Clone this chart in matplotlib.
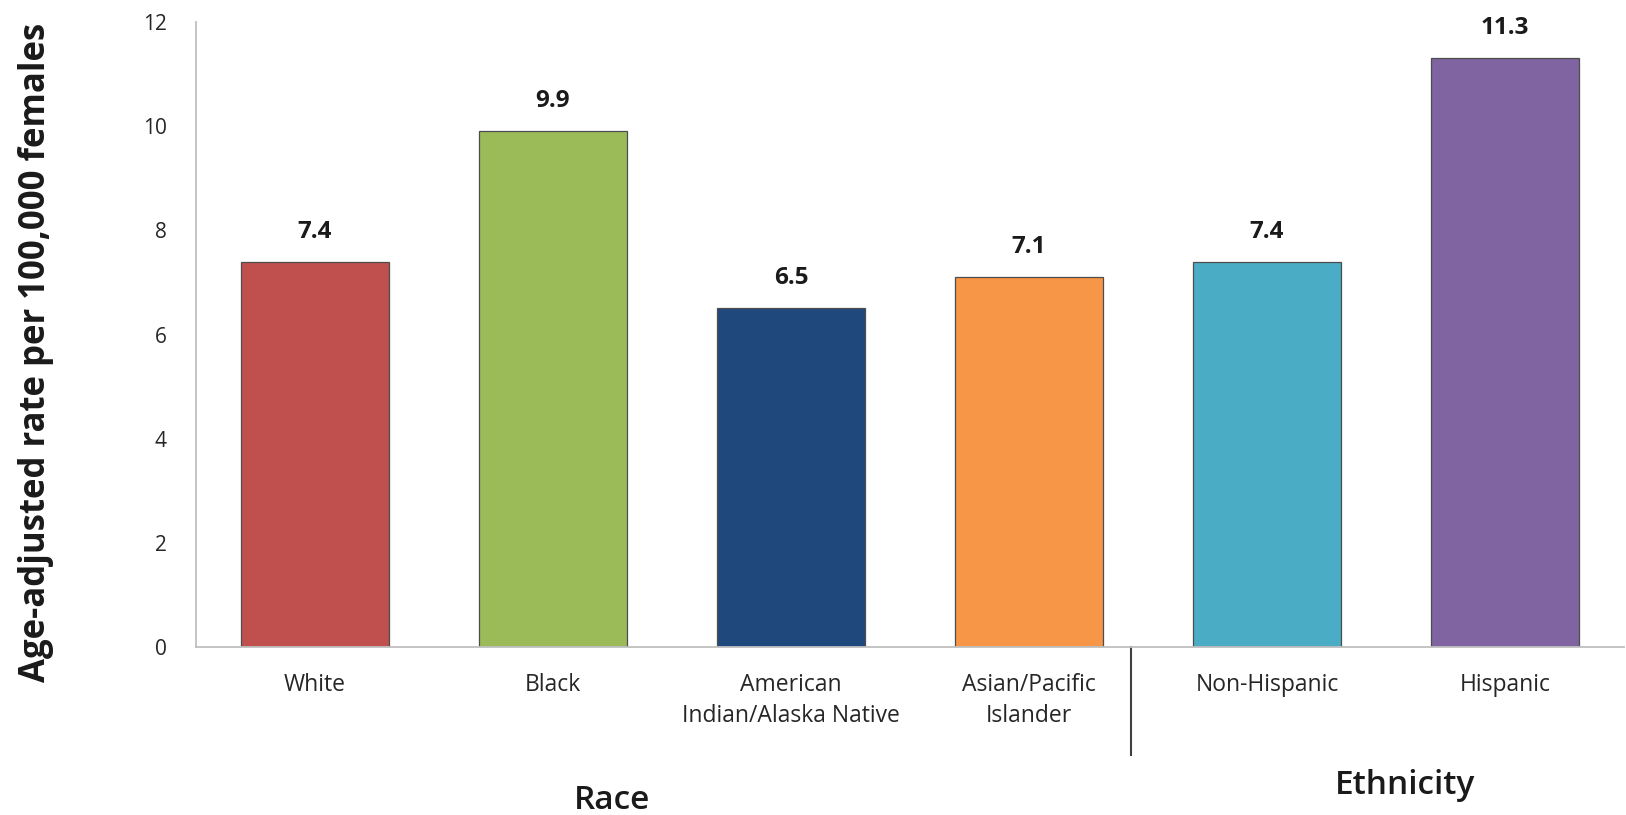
import matplotlib
matplotlib.use("Agg")
import matplotlib.pyplot as plt

plt.rcParams['font.family'] = ['Open Sans', 'DejaVu Sans']

categories = ['White', 'Black', 'American\nIndian/Alaska Native', 'Asian/Pacific\nIslander',
              'Non-Hispanic', 'Hispanic']
rates = [7.4, 9.9, 6.5, 7.1, 7.4, 11.3]
colors = ['#C0504D', '#9BBB59', '#1F497D', '#F79646', '#4BACC6', '#8064A2']
yticks = [0, 2, 4, 6, 8, 10, 12]

fig = plt.figure(figsize=(16.26, 8.15), dpi=100)
ax = fig.add_axes([0.1205, 0.2061, 0.8783, 0.7669])

x = range(len(categories))
bars = ax.bar(x, rates, width=0.62, color=colors, edgecolor='#4d4d4d', linewidth=0.9)

for b, v in zip(bars, rates):
    ax.annotate(f'{v:.1f}', (b.get_x() + b.get_width() / 2, v), xytext=(0, 13),
                textcoords='offset points', ha='center', va='bottom',
                fontsize=17.5, fontweight='bold', color='#1a1a1a')

ax.set_xlim(-0.5, 5.5)
ax.set_ylim(0, 12)
ax.set_yticks(yticks)
ax.set_xticks(list(x))
ax.set_xticklabels(categories, fontsize=16.5, color='#262626', linespacing=1.35)
ax.tick_params(axis='both', length=0)
ax.tick_params(axis='y', labelsize=15, labelcolor='#262626', pad=21)
ax.tick_params(axis='x', pad=19)

for s in ['top', 'right']:
    ax.spines[s].set_visible(False)
ax.spines['left'].set_color('#bfbfbf')
ax.spines['bottom'].set_color('#bfbfbf')
ax.spines['left'].set_linewidth(1.3)
ax.spines['bottom'].set_linewidth(1.3)

# separator between race and ethnicity groups
ax.plot([3.43, 3.43], [0, -0.173], transform=ax.get_xaxis_transform(),
        color='#404040', linewidth=1.5, clip_on=False)

ax.text(1.25, -0.245, 'Race', transform=ax.get_xaxis_transform(),
        ha='center', va='center', fontsize=24, fontweight='semibold', color='#1a1a1a')
ax.text(4.58, -0.221, 'Ethnicity', transform=ax.get_xaxis_transform(),
        ha='center', va='center', fontsize=24, fontweight='semibold', color='#1a1a1a')

fig.text(36 / 1626, 1 - 352 / 815, 'Age-adjusted rate per 100,000 females',
         rotation=90, ha='center', va='center', fontsize=25, fontweight='bold',
         color='#1a1a1a')

fig.savefig('out.png', dpi=100)
